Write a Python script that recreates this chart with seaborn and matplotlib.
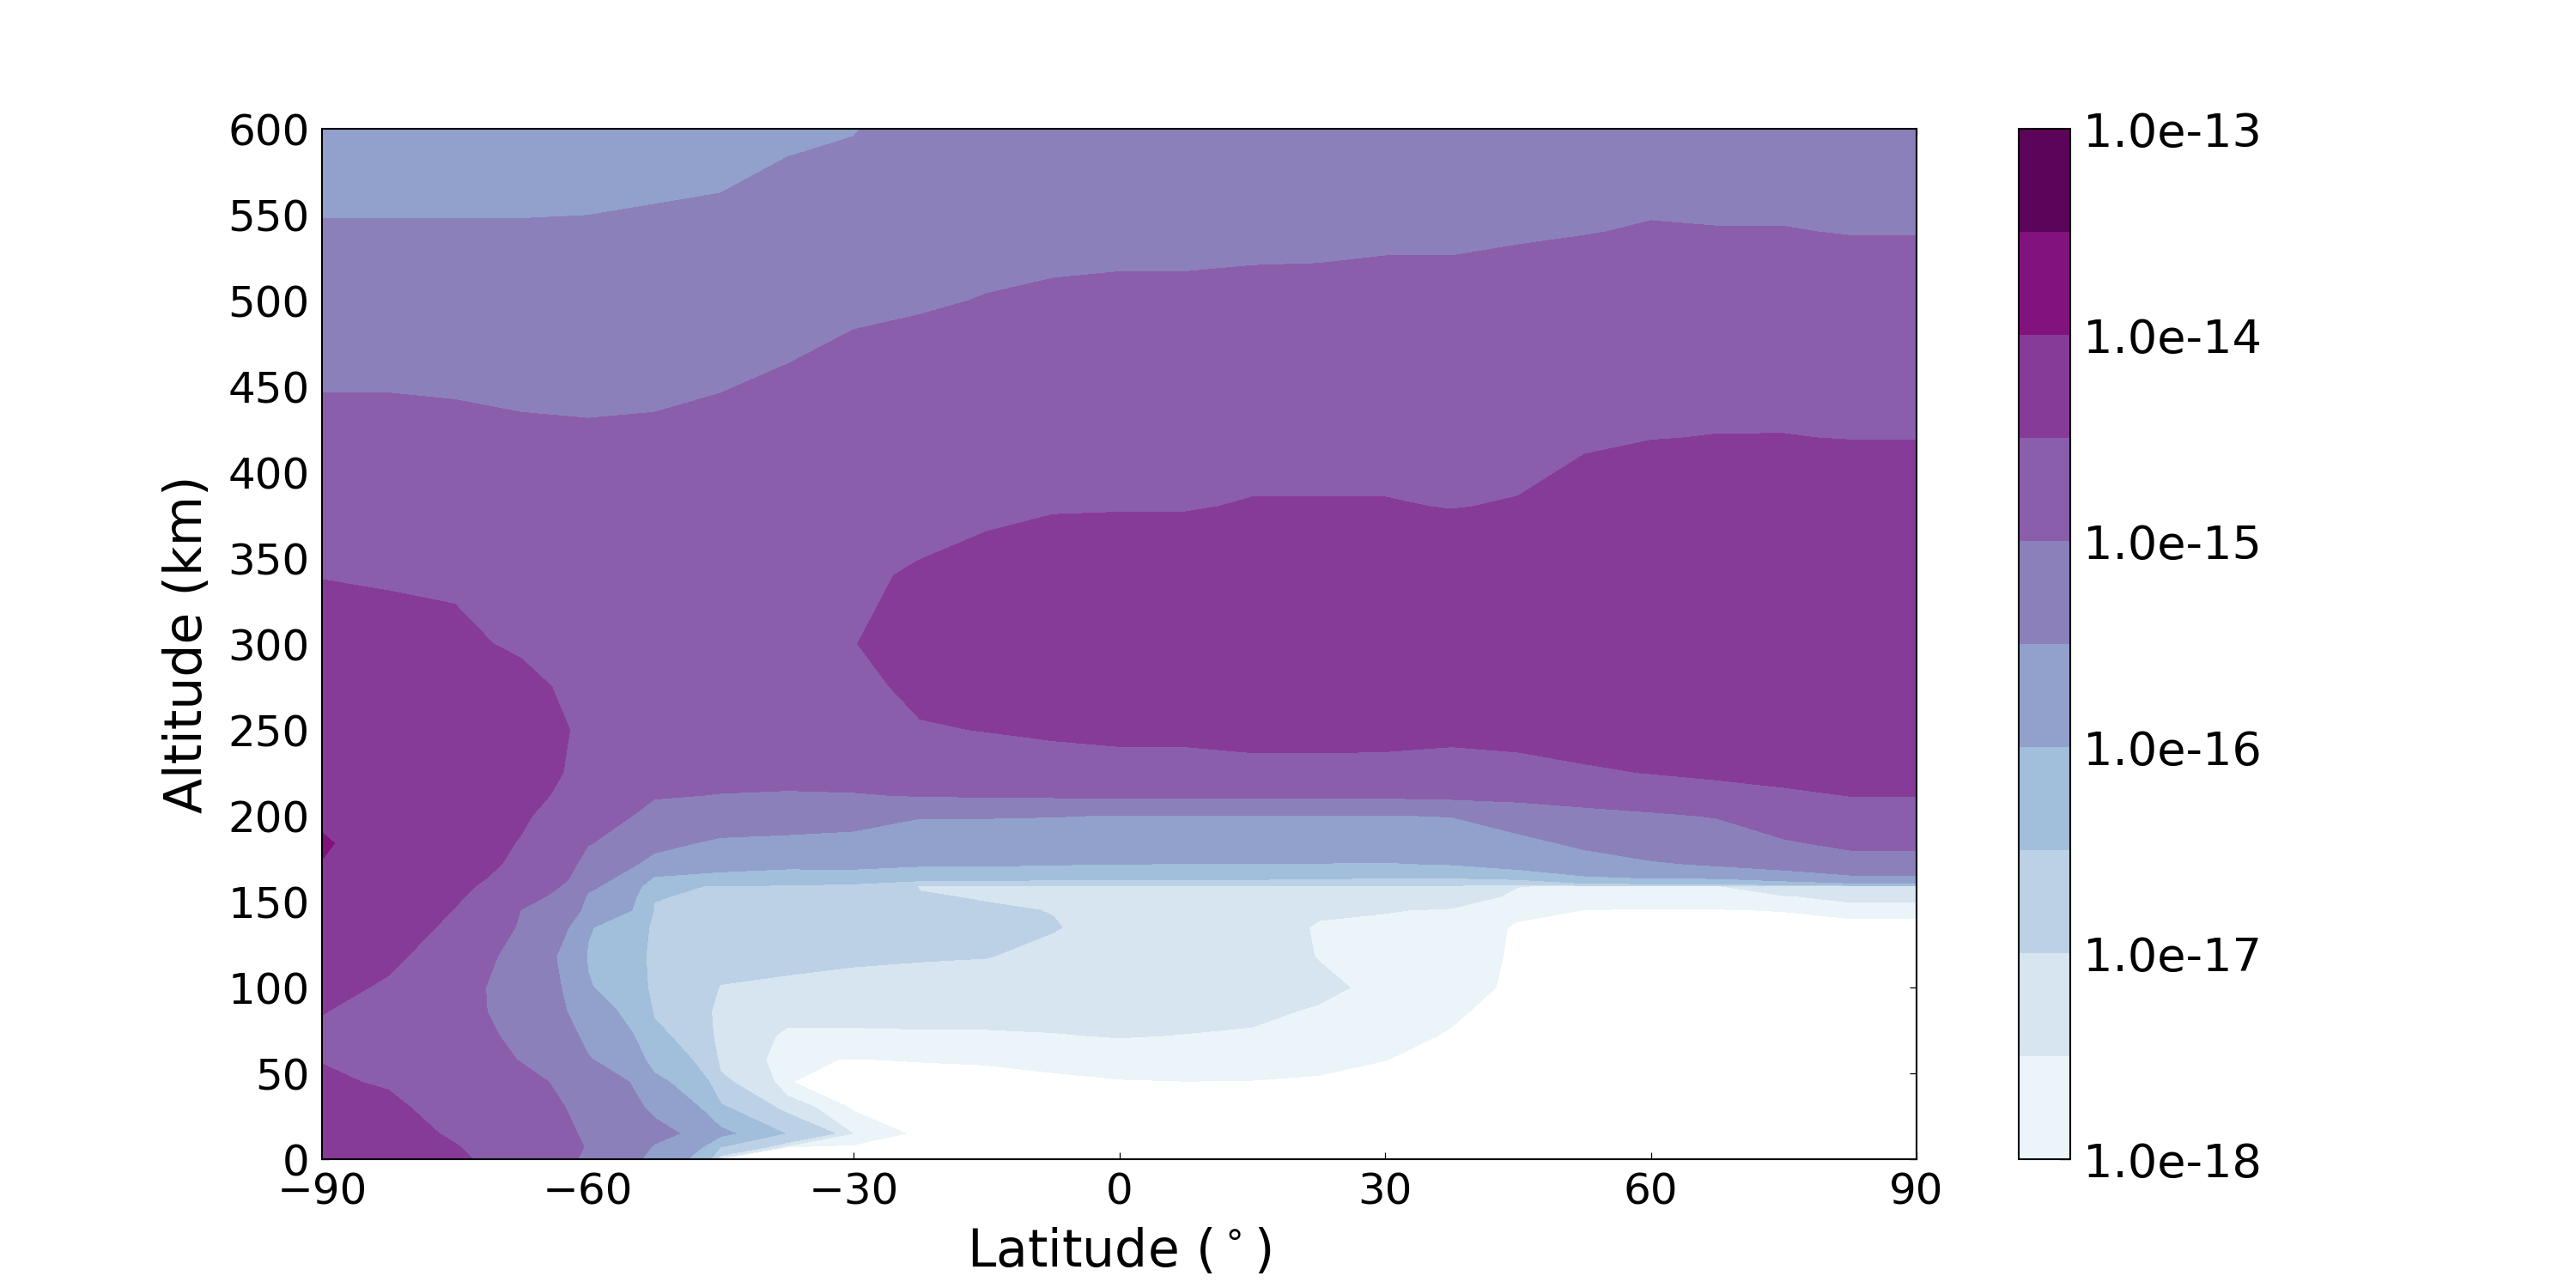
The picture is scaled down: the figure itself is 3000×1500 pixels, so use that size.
import numpy as np
import matplotlib
matplotlib.use("Agg")
import matplotlib.pyplot as plt
from matplotlib.colors import LogNorm, ListedColormap
import seaborn as sns

# ---------------- data (log10 of the plotted quantity) ----------------
latitudes = [-90, -82.5, -75, -67.5, -60, -52.5, -45, -37.5, -30, -22.5, -15, -7.5,
             0, 7.5, 15, 22.5, 30, 37.5, 45, 52.5, 60, 67.5, 75, 82.5, 90]
altitudes = [0, 7, 15, 30, 45, 58, 72, 86, 100, 118, 135, 145, 153, 159, 164, 172,
             184, 200, 212, 225, 250, 275, 300, 340, 380, 420, 460, 500, 540, 570, 600]

lat_m90 = [-14.30, -14.33, -14.37, -14.42, -14.46, -14.51, -14.56, -14.49, -14.40, -14.27,
           -14.17, -14.12, -14.08, -14.06, -14.04, -14.01, -13.96, -14.07, -14.10, -14.15,
           -14.22, -14.30, -14.37, -14.51, -14.67, -14.88, -15.08, -15.27, -15.47, -15.60, -15.72]
lat_m82 = [-14.30, -14.33, -14.37, -14.44, -14.53, -14.60, -14.63, -14.62, -14.55, -14.43,
           -14.35, -14.31, -14.29, -14.27, -14.26, -14.25, -14.24, -14.25, -14.26, -14.28,
           -14.32, -14.36, -14.41, -14.53, -14.67, -14.88, -15.08, -15.27, -15.47, -15.60, -15.72]
lat_m75 = [-14.44, -14.48, -14.55, -14.65, -14.74, -14.80, -14.85, -14.88, -14.88, -14.75,
           -14.58, -14.51, -14.46, -14.43, -14.41, -14.38, -14.35, -14.33, -14.33, -14.34,
           -14.36, -14.40, -14.45, -14.54, -14.70, -14.90, -15.10, -15.28, -15.47, -15.60, -15.73]
lat_m67 = [-14.72, -14.76, -14.80, -14.83, -14.90, -15.02, -15.10, -15.18, -15.20, -15.25,
           -15.08, -15.01, -14.85, -14.72, -14.62, -14.56, -14.52, -14.46, -14.40, -14.37,
           -14.37, -14.43, -14.54, -14.65, -14.76, -14.95, -15.10, -15.29, -15.47, -15.60, -15.72]
lat_m60 = [-15.08, -15.02, -15.05, -15.12, -15.20, -15.47, -15.62, -15.80, -15.97, -16.03,
           -15.97, -15.62, -15.55, -15.42, -15.33, -15.18, -14.98, -14.80, -14.68, -14.60,
           -14.56, -14.60, -14.66, -14.77, -14.86, -14.96, -15.12, -15.30, -15.46, -15.60, -15.72]
lat_m52 = [-15.70, -15.55, -15.36, -15.62, -15.90, -16.20, -16.40, -16.55, -16.63, -16.64,
           -16.60, -16.53, -16.48, -16.45, -16.04, -15.68, -15.38, -15.15, -14.97, -14.85,
           -14.73, -14.70, -14.72, -14.80, -14.88, -14.95, -15.10, -15.27, -15.44, -15.56, -15.68]
lat_m45 = [-18.40, -16.52, -15.92, -16.45, -16.92, -17.12, -17.20, -17.15, -17.02, -16.85,
           -16.72, -16.64, -16.57, -16.52, -16.15, -15.85, -15.60, -15.25, -15.01, -14.90,
           -14.80, -14.77, -14.77, -14.80, -14.85, -14.92, -15.05, -15.23, -15.42, -15.53, -15.64]
lat_m37 = [-18.30, -18.10, -16.55, -17.30, -17.98, -17.97, -17.60, -17.35, -17.08, -16.90,
           -16.78, -16.70, -16.63, -16.55, -16.25, -15.90, -15.63, -15.30, -15.02, -14.93,
           -14.83, -14.78, -14.77, -14.78, -14.82, -14.88, -14.99, -15.16, -15.33, -15.45, -15.57]
lat_m30 = [-18.50, -18.20, -17.55, -18.15, -18.30, -18.01, -17.60, -17.35, -17.12, -16.95,
           -16.85, -16.77, -16.70, -16.60, -16.30, -15.88, -15.67, -15.35, -15.02, -14.88,
           -14.72, -14.62, -14.51, -14.55, -14.65, -14.78, -14.92, -15.07, -15.22, -15.36, -15.53]
lat_m22 = [-18.60, -18.30, -18.30, -18.40, -18.20, -17.98, -17.57, -17.35, -17.18, -16.97,
           -16.85, -16.93, -16.97, -17.03, -16.35, -15.95, -15.75, -15.48, -14.98, -14.80,
           -14.53, -14.42, -14.37, -14.47, -14.62, -14.76, -14.90, -15.03, -15.14, -15.22, -15.30]
lat_m15 = [-18.60, -18.60, -18.50, -18.40, -18.20, -17.95, -17.56, -17.36, -17.22, -16.99,
           -16.92, -16.96, -17.03, -17.04, -16.35, -15.95, -15.74, -15.48, -14.97, -14.78,
           -14.49, -14.38, -14.32, -14.40, -14.57, -14.73, -14.87, -14.99, -15.10, -15.18, -15.26]
lat_m07 = [-18.70, -18.70, -18.60, -18.45, -18.15, -17.85, -17.52, -17.38, -17.25, -17.10,
           -16.98, -17.01, -17.05, -17.05, -16.40, -15.98, -15.75, -15.49, -14.96, -14.75,
           -14.44, -14.33, -14.27, -14.32, -14.53, -14.68, -14.82, -14.97, -15.07, -15.13, -15.20]
lat_000 = [-18.80, -18.80, -18.70, -18.50, -18.05, -17.75, -17.48, -17.38, -17.30, -17.22,
           -17.15, -17.12, -17.10, -17.05, -16.40, -15.99, -15.78, -15.51, -14.95, -14.73,
           -14.40, -14.30, -14.25, -14.32, -14.52, -14.68, -14.82, -14.95, -15.08, -15.15, -15.22]
lat_p07 = [-18.90, -18.90, -18.80, -18.55, -18.01, -17.75, -17.51, -17.40, -17.32, -17.24,
           -17.17, -17.13, -17.10, -17.05, -16.42, -16.01, -15.78, -15.51, -14.95, -14.72,
           -14.40, -14.29, -14.24, -14.31, -14.52, -14.68, -14.82, -14.95, -15.08, -15.15, -15.22]
lat_p15 = [-18.90, -18.90, -18.80, -18.50, -18.02, -17.80, -17.55, -17.42, -17.35, -17.28,
           -17.20, -17.15, -17.10, -17.05, -16.42, -16.01, -15.78, -15.51, -14.95, -14.66,
           -14.37, -14.27, -14.22, -14.30, -14.48, -14.65, -14.80, -14.93, -15.08, -15.15, -15.22]
lat_p22 = [-19.00, -19.00, -18.90, -18.60, -18.08, -17.85, -17.70, -17.55, -17.40, -17.52,
           -17.58, -17.40, -17.25, -17.08, -16.45, -16.01, -15.78, -15.51, -14.95, -14.67,
           -14.36, -14.26, -14.22, -14.30, -14.48, -14.65, -14.80, -14.93, -15.07, -15.15, -15.22]
lat_p30 = [-19.00, -19.00, -19.00, -18.70, -18.30, -17.99, -17.85, -17.72, -17.65, -17.68,
           -17.60, -17.48, -17.30, -17.10, -16.48, -16.02, -15.80, -15.51, -14.95, -14.68,
           -14.37, -14.27, -14.22, -14.28, -14.48, -14.65, -14.80, -14.92, -15.05, -15.14, -15.22]
lat_p37 = [-19.00, -19.00, -19.00, -18.80, -18.50, -18.25, -18.05, -17.92, -17.85, -17.80,
           -17.68, -17.54, -17.30, -17.10, -16.48, -15.98, -15.78, -15.49, -14.93, -14.72,
           -14.40, -14.30, -14.25, -14.30, -14.51, -14.66, -14.80, -14.92, -15.05, -15.14, -15.22]
lat_p45 = [-19.20, -19.20, -19.20, -19.10, -19.00, -18.90, -18.80, -18.35, -18.10, -18.08,
           -18.10, -17.85, -17.60, -17.49, -16.40, -15.85, -15.66, -15.30, -14.90, -14.62,
           -14.40, -14.28, -14.23, -14.25, -14.48, -14.63, -14.78, -14.89, -15.03, -15.12, -15.20]
lat_p52 = [-19.30, -19.30, -19.30, -19.20, -19.10, -19.00, -18.90, -18.80, -18.70, -18.50,
           -18.30, -18.01, -17.70, -17.55, -16.05, -15.75, -15.42, -15.12, -14.87, -14.55,
           -14.35, -14.24, -14.20, -14.22, -14.35, -14.56, -14.72, -14.85, -15.01, -15.10, -15.18]
lat_p60 = [-19.30, -19.30, -19.30, -19.20, -19.10, -19.00, -18.90, -18.80, -18.70, -18.55,
           -18.35, -18.05, -17.75, -17.55, -15.98, -15.55, -15.30, -15.05, -14.82, -14.49,
           -14.30, -14.20, -14.17, -14.18, -14.28, -14.51, -14.70, -14.84, -14.98, -15.08, -15.16]
lat_p67 = [-19.30, -19.30, -19.30, -19.20, -19.10, -19.00, -18.90, -18.80, -18.70, -18.55,
           -18.35, -18.03, -17.75, -17.55, -15.95, -15.45, -15.25, -14.98, -14.70, -14.43,
           -14.25, -14.17, -14.15, -14.16, -14.25, -14.49, -14.70, -14.84, -14.99, -15.09, -15.17]
lat_p75 = [-19.30, -19.30, -19.30, -19.20, -19.10, -19.00, -18.90, -18.80, -18.70, -18.50,
           -18.30, -17.98, -17.56, -17.10, -15.80, -15.35, -15.05, -14.80, -14.58, -14.38,
           -14.22, -14.15, -14.13, -14.14, -14.24, -14.49, -14.68, -14.83, -14.99, -15.09, -15.17]
lat_p82 = [-19.30, -19.30, -19.30, -19.20, -19.10, -19.00, -18.90, -18.80, -18.70, -18.50,
           -18.25, -17.85, -17.35, -17.03, -15.60, -15.22, -14.92, -14.70, -14.49, -14.37,
           -14.22, -14.15, -14.13, -14.14, -14.25, -14.51, -14.70, -14.85, -15.01, -15.10, -15.18]
lat_p90 = [-19.30, -19.30, -19.30, -19.20, -19.10, -19.00, -18.90, -18.80, -18.70, -18.50,
           -18.25, -17.85, -17.35, -17.03, -15.58, -15.20, -14.92, -14.70, -14.49, -14.37,
           -14.22, -14.15, -14.13, -14.14, -14.25, -14.51, -14.70, -14.85, -15.01, -15.10, -15.18]

level_exponents = [-18, -17.5, -17, -16.5, -16, -15.5, -15, -14.5, -14, -13.5, -13]
tick_exponents = [-18, -17, -16, -15, -14, -13]
x_ticks = [-90, -60, -30, 0, 30, 60, 90]
y_ticks = [0, 50, 100, 150, 200, 250, 300, 350, 400, 450, 500, 550, 600]

# ---------------- build grid ----------------
profiles = [lat_m90, lat_m82, lat_m75, lat_m67, lat_m60, lat_m52, lat_m45, lat_m37,
            lat_m30, lat_m22, lat_m15, lat_m07, lat_000, lat_p07, lat_p15, lat_p22,
            lat_p30, lat_p37, lat_p45, lat_p52, lat_p60, lat_p67, lat_p75, lat_p82, lat_p90]
Z = 10.0 ** np.array(profiles).T
LAT, ALT = np.meshgrid(latitudes, altitudes)
levels = 10.0 ** np.array(level_exponents)

# ---------------- style ----------------
sns.set_theme(style="white")
plt.rcParams.update({
    "font.family": ["DejaVu Sans"],
    "font.size": 24,
    "mathtext.fontset": "dejavusans",
    "axes.edgecolor": "black",
    "axes.linewidth": 1.0,
    "xtick.direction": "in",
    "ytick.direction": "in",
    "xtick.top": True,
    "ytick.right": True,
    "xtick.bottom": True,
    "ytick.left": True,
    "xtick.major.size": 4,
    "ytick.major.size": 4,
    "xtick.major.width": 0.6,
    "ytick.major.width": 0.6,
    "xtick.major.pad": 7,
    "ytick.major.pad": 7,
    "xtick.color": "black",
    "ytick.color": "black",
    "axes.labelcolor": "black",
    "text.color": "black",
})

norm = LogNorm(vmin=levels[0], vmax=levels[-1])
bupu = sns.color_palette("BuPu", as_cmap=True)
mids = 0.5 * (levels[:-1] + levels[1:])
band_cmap = ListedColormap(bupu(norm(mids)))

fig = plt.figure(figsize=(20, 10), dpi=150)
ax = fig.add_axes([0.125, 0.1, 0.619, 0.8])
cax = fig.add_axes([0.7837, 0.1, 0.0200, 0.8])

cs = ax.contourf(LAT, ALT, Z, levels=levels, norm=norm, cmap=band_cmap)

ax.set_xlim(-90, 90)
ax.set_ylim(0, 600)
ax.set_xticks(x_ticks)
ax.set_yticks(y_ticks)
ax.tick_params(labelsize=24)
ax.set_xlabel(r"Latitude ($^\circ$)", fontsize=28.8, labelpad=8)
ax.set_ylabel("Altitude (km)", fontsize=28.8, labelpad=8)
for sp in ax.spines.values():
    sp.set_color("black")
    sp.set_linewidth(1.0)

cbar = fig.colorbar(cs, cax=cax, format="%.1e")
cbar.set_ticks(10.0 ** np.array(tick_exponents))
cbar.ax.minorticks_off()
cbar.ax.tick_params(direction="in", length=6, width=0.6, labelsize=26, right=True, left=False, pad=7)
cbar.outline.set_edgecolor("black")
cbar.outline.set_linewidth(1.0)

fig.savefig("out.png", dpi=150, facecolor="white")
